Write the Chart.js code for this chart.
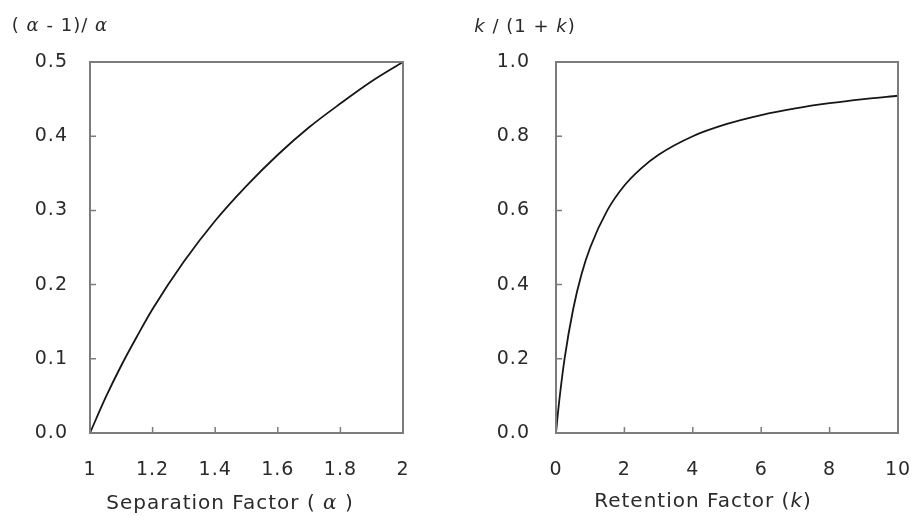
<!DOCTYPE html>
<html>
<head>
<meta charset="utf-8">
<script src="https://cdn.jsdelivr.net/npm/chart.js@4.4.1/dist/chart.umd.min.js"></script>
<style>
  html, body { margin: 0; padding: 0; background: #fff; }
  #wrap { position: relative; width: 916px; height: 517px; }
  #wrap canvas { position: absolute; top: 0; }
</style>
</head>
<body>
<div id="wrap">
  <canvas id="sep" width="458" height="517" style="left:0"></canvas>
  <canvas id="ret" width="458" height="517" style="left:458px"></canvas>
</div>
<script>
// Separation factor α and the resulting (α - 1)/α term
const alphaValues = [1, 1.05, 1.1, 1.15, 1.2, 1.3, 1.4, 1.5, 1.6, 1.7, 1.8, 1.9, 2];
const alphaTerm   = [0, 0.048, 0.091, 0.13, 0.167, 0.231, 0.286, 0.333, 0.375, 0.412, 0.444, 0.474, 0.5];
const alphaTickLabels = ['1', '1.2', '1.4', '1.6', '1.8', '2'];
const alphaTermTickLabels = ['0.0', '0.1', '0.2', '0.3', '0.4', '0.5'];

// Retention factor k and the resulting k/(1 + k) term
const kValues = [0, 0.05, 0.1, 0.25, 0.5, 0.75, 1, 1.5, 2, 2.5, 3, 4, 5, 6, 7, 8, 9, 10];
const kTerm   = [0, 0.048, 0.091, 0.2, 0.333, 0.429, 0.5, 0.6, 0.667, 0.714, 0.75, 0.8, 0.833, 0.857, 0.875, 0.889, 0.9, 0.909];
const kTickLabels = ['0', '2', '4', '6', '8', '10'];
const kTermTickLabels = ['0.0', '0.2', '0.4', '0.6', '0.8', '1.0'];

const FONT = "'DejaVu Sans', 'Liberation Sans', sans-serif";
const GREEK = "'DejaVu Serif', 'Liberation Serif', serif";
const FRAME = '#7c7c7c';
const TEXT = '#2a2a2a';

Chart.defaults.font.family = FONT;
Chart.defaults.color = TEXT;

// Draws a title made of runs with mixed upright / italic faces
function drawRuns(ctx, runs, cx, cy, size) {
  ctx.save();
  ctx.letterSpacing = '1px';
  ctx.fillStyle = TEXT;
  ctx.textBaseline = 'middle';
  ctx.textAlign = 'left';
  const fontOf = r => (r.italic ? 'italic ' : '') + size + 'px ' + (r.greek ? GREEK : FONT);
  let total = 0;
  runs.forEach(r => { ctx.font = fontOf(r); total += ctx.measureText(r.t).width; });
  let x = cx - total / 2;
  runs.forEach(r => { ctx.font = fontOf(r); ctx.fillText(r.t, x, cy); x += ctx.measureText(r.t).width; });
  ctx.restore();
}

// Box around the plot area plus short inward tick marks
const framePlugin = {
  id: 'frame',
  beforeDraw(chart) { chart.ctx.letterSpacing = '1px'; },
  afterDatasetsDraw(chart) {
    const { ctx, chartArea: a, scales } = chart;
    ctx.save();
    ctx.strokeStyle = FRAME;
    ctx.lineWidth = 2;
    ctx.strokeRect(a.left, a.top, a.right - a.left, a.bottom - a.top);
    ctx.lineWidth = 1.5;
    ctx.beginPath();
    scales.x.ticks.forEach(t => {
      const px = scales.x.getPixelForValue(t.value);
      ctx.moveTo(px, a.bottom);
      ctx.lineTo(px, a.bottom - 6);
    });
    scales.y.ticks.forEach(t => {
      const py = scales.y.getPixelForValue(t.value);
      ctx.moveTo(a.left, py);
      ctx.lineTo(a.left + 6, py);
    });
    ctx.stroke();
    ctx.restore();
  }
};

const titlePlugin = {
  id: 'axisTitles',
  afterDraw(chart, args, opts) {
    drawRuns(chart.ctx, opts.yRuns, opts.yPos[0], opts.yPos[1], 18);
    drawRuns(chart.ctx, opts.xRuns, opts.xPos[0], opts.xPos[1], 20);
  }
};

function makeChart(id, xs, ys, xLabels, yLabels, geom, titles) {
  const points = xs.map((x, i) => ({ x, y: ys[i] }));
  const fixedTicks = labels => scale => { scale.ticks = labels.map(l => ({ value: Number(l) })); };
  return new Chart(document.getElementById(id), {
    type: 'scatter',
    data: {
      datasets: [{
        data: points,
        showLine: true,
        borderColor: '#161616',
        borderWidth: 1.8,
        pointRadius: 0,
        cubicInterpolationMode: 'monotone'
      }]
    },
    options: {
      responsive: false,
      animation: false,
      devicePixelRatio: 1,
      layout: { padding: { left: 0, top: geom.top, right: geom.right, bottom: 0 } },
      plugins: {
        legend: { display: false },
        tooltip: { enabled: false },
        axisTitles: titles
      },
      scales: {
        x: {
          type: 'linear',
          min: Number(xLabels[0]),
          max: Number(xLabels[xLabels.length - 1]),
          afterBuildTicks: fixedTicks(xLabels),
          afterFit: s => { s.height = geom.xHeight; s.paddingLeft = 0; s.paddingRight = 0; },
          grid: { display: false, drawTicks: false },
          border: { display: false },
          ticks: {
            padding: geom.xPad,
            maxRotation: 0,
            autoSkip: false,
            font: { size: 19 },
            color: TEXT,
            callback: (v, i) => xLabels[i]
          }
        },
        y: {
          type: 'linear',
          min: Number(yLabels[0]),
          max: Number(yLabels[yLabels.length - 1]),
          afterBuildTicks: fixedTicks(yLabels),
          afterFit: s => { s.width = geom.yWidth; s.paddingTop = 0; s.paddingBottom = 0; },
          grid: { display: false, drawTicks: false },
          border: { display: false },
          ticks: {
            padding: geom.yPad,
            autoSkip: false,
            font: { size: 19 },
            color: TEXT,
            callback: (v, i) => yLabels[i]
          }
        }
      }
    },
    plugins: [framePlugin, titlePlugin]
  });
}

makeChart('sep', alphaValues, alphaTerm, alphaTickLabels, alphaTermTickLabels,
  { top: 62, right: 55, xHeight: 84, yWidth: 90, xPad: 26, yPad: 22 },
  {
    yRuns: [{ t: '( ' }, { t: 'α', italic: true, greek: true }, { t: ' - 1)/ ' }, { t: 'α', italic: true, greek: true }],
    yPos: [60, 26],
    xRuns: [{ t: 'Separation Factor ( ' }, { t: 'α', italic: true, greek: true }, { t: ' )' }],
    xPos: [230, 504]
  });

makeChart('ret', kValues, kTerm, kTickLabels, kTermTickLabels,
  { top: 62, right: 18, xHeight: 84, yWidth: 98, xPad: 26, yPad: 26 },
  {
    yRuns: [{ t: 'k', italic: true }, { t: ' / (1 + ' }, { t: 'k', italic: true }, { t: ')' }],
    yPos: [67, 27],
    xRuns: [{ t: 'Retention Factor (' }, { t: 'k', italic: true }, { t: ')' }],
    xPos: [245, 502]
  });
</script>
</body>
</html>
